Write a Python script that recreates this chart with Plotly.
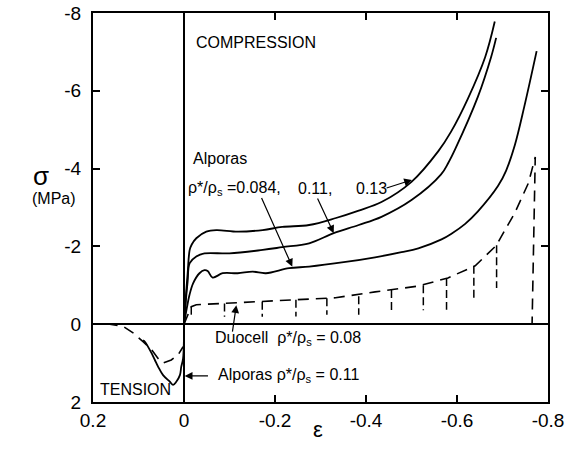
import plotly.graph_objects as go

# strain (eps) and stress (MPa), compression is negative
a013_eps = [0, -0.004, -0.008, -0.0125, -0.017, -0.027, -0.049, -0.071, -0.118, -0.173, -0.216,
            -0.275, -0.334, -0.384, -0.434, -0.5, -0.559, -0.587, -0.624, -0.662, -0.683]
a013_sig = [0, -0.7, -1.3, -1.91, -2.05, -2.21, -2.38, -2.42, -2.38, -2.42, -2.5,
            -2.55, -2.73, -2.92, -3.14, -3.66, -4.45, -4.95, -5.8, -6.87, -7.78]

a011_eps = [0, -0.004, -0.008, -0.0125, -0.027, -0.045, -0.1, -0.173, -0.216, -0.275, -0.329,
            -0.384, -0.434, -0.5, -0.565, -0.581, -0.596, -0.646, -0.675, -0.686]
a011_sig = [0, -0.6, -1.1, -1.57, -1.74, -1.82, -1.82, -1.91, -1.98, -2.08, -2.34,
            -2.55, -2.76, -3.19, -3.85, -4.15, -4.5, -5.85, -6.87, -7.36]

a0084_eps = [0, -0.006, -0.012, -0.02, -0.034, -0.045, -0.052, -0.063, -0.085, -0.118, -0.151,
             -0.18, -0.231, -0.275, -0.355, -0.42, -0.478, -0.515, -0.566, -0.587, -0.618,
             -0.646, -0.69, -0.708, -0.727, -0.748, -0.775]
a0084_sig = [0, -0.4, -0.75, -1.05, -1.31, -1.39, -1.37, -1.2, -1.31, -1.31, -1.35,
             -1.31, -1.44, -1.48, -1.6, -1.72, -1.85, -1.95, -2.18, -2.32, -2.58,
             -2.9, -3.55, -3.95, -4.6, -5.6, -7.02]

duo_eps = [0, -0.008, -0.016, -0.027, -0.06, -0.1, -0.188, -0.25, -0.333, -0.42, -0.515,
           -0.58, -0.64, -0.686, -0.727, -0.757, -0.772, -0.765]
duo_sig = [0, -0.25, -0.45, -0.5, -0.52, -0.53, -0.6, -0.63, -0.68, -0.83, -0.98,
           -1.19, -1.5, -2.02, -2.86, -3.63, -4.3, 0]

# duocell unloading marks
unl_eps = [-0.016, -0.089, -0.172, -0.246, -0.314, -0.384, -0.456, -0.526, -0.577, -0.637, -0.687]
unl_top = [-0.45, -0.53, -0.58, -0.63, -0.67, -0.72, -0.88, -1.0, -1.19, -1.5, -2.03]
unl_bot = [-0.19, -0.19, -0.19, -0.2, -0.24, -0.24, -0.32, -0.36, -0.37, -0.67, -0.93]

# tension side
duo_t_eps = [0.17, 0.163, 0.133, 0.111, 0.09, 0.071, 0.057, 0.046, 0.028, 0.013, 0.002]
duo_t_sig = [0, 0, 0.06, 0.23, 0.45, 0.66, 0.88, 1.0, 0.92, 0.79, 0.58]
alp_t_eps = [0.09, 0.086, 0.071, 0.064, 0.057, 0.046, 0.031, 0.024, 0.017, 0.009, 0.006, 0.002, 0]
alp_t_sig = [0.41, 0.45, 0.75, 0.92, 1.09, 1.31, 1.48, 1.56, 1.48, 1.31, 1.09, 0.88, 0]

x_ticks = [0.2, 0, -0.2, -0.4, -0.6, -0.8]
x_labels = ["0.2", "0", "-0.2", "-0.4", "-0.6", "-0.8"]
y_ticks = [2, 0, -2, -4, -6, -8]
y_labels = ["2", "0", "-2", "-4", "-6", "-8"]

FONT = "Liberation Sans, Arial, sans-serif"
solid = dict(color="black", width=1.8)
dashed = dict(color="black", width=1.6, dash="11px,7px")

fig = go.Figure()
for xs, ys in [(a013_eps, a013_sig), (a011_eps, a011_sig), (a0084_eps, a0084_sig), (alp_t_eps, alp_t_sig)]:
    fig.add_trace(go.Scatter(x=xs, y=ys, mode="lines", line=solid, line_shape="spline",
                             hoverinfo="skip"))
for xs, ys in [(duo_eps, duo_sig), (duo_t_eps, duo_t_sig)]:
    fig.add_trace(go.Scatter(x=xs, y=ys, mode="lines", line=dashed, hoverinfo="skip"))

ux, uy = [], []
for e, t, b in zip(unl_eps, unl_top, unl_bot):
    ux += [e, e, None]
    uy += [t, b, None]
fig.add_trace(go.Scatter(x=ux, y=uy, mode="lines", line=dict(color="black", width=1.5, dash="8px,4px"),
                         hoverinfo="skip"))

txt = dict(family=FONT, size=16, color="black")
labels = [
    ("COMPRESSION", -0.021, -7.25),
    ("Alporas", -0.016, -4.25),
    ("ρ*/ρ<sub>s</sub> =0.084,", -0.005, -3.5),
    ("0.11,", -0.246, -3.5),
    ("0.13", -0.373, -3.5),
    ("Duocell  ρ*/ρ<sub>s</sub> = 0.08", -0.063, 0.36),
    ("Alporas ρ*/ρ<sub>s</sub> = 0.11", -0.071, 1.32),
    ("TENSION", 0.19, 1.67),
]
for t, x, y in labels:
    fig.add_annotation(text=t, x=x, y=y, xref="x", yref="y", showarrow=False,
                       xanchor="left", yanchor="middle", font=txt)

arrows = [
    (-0.501, -3.71, -0.442, -3.49),
    (-0.238, -1.48, -0.169, -3.28),
    (-0.329, -2.34, -0.292, -3.27),
    (-0.115, -0.49, -0.106, 0.23),
    (-0.0015, 1.33, -0.056, 1.33),
]
for hx, hy, tx, ty in arrows:
    fig.add_annotation(text="", x=hx, y=hy, ax=tx, ay=ty, xref="x", yref="y",
                       axref="x", ayref="y", showarrow=True, arrowhead=2,
                       arrowsize=1.3, arrowwidth=1.2, arrowcolor="black")

fig.add_annotation(text="σ", x=-0.137, y=0.581, xref="paper", yref="paper",
                   showarrow=False, font=dict(family=FONT, size=26, color="black"))
fig.add_annotation(text="(MPa)", x=-0.138, y=0.524, xref="paper", yref="paper",
                   showarrow=False, font=dict(family=FONT, size=16, color="black"))
fig.add_annotation(text="ε", x=0.494, y=-0.108, xref="paper", yref="paper",
                   showarrow=False, font=dict(family=FONT, size=22, color="black"))

axis = dict(showgrid=False, showline=True, linecolor="black", linewidth=2, mirror="allticks",
            ticks="inside", ticklen=7, tickwidth=2, tickcolor="black", automargin=False,
            zeroline=True, zerolinecolor="black", zerolinewidth=2.2, ticklabeloverflow="allow",
            tickfont=dict(family=FONT, size=19, color="black"))
fig.update_xaxes(axis, range=[0.2, -0.8], tickvals=x_ticks, ticktext=x_labels)
fig.update_yaxes(axis, range=[2, -8], tickvals=y_ticks, ticktext=y_labels, ticklabelstandoff=6)

fig.update_layout(width=567, height=456, autosize=False, showlegend=False,
                  margin=dict(l=93, r=19, t=13, b=54, autoexpand=False),
                  plot_bgcolor="white", paper_bgcolor="white")

# drop the default 8px body margin so the figure fills the window
fig.write_html("out.html", config={"displayModeBar": False},
               post_script="document.body.style.margin='0px';")
